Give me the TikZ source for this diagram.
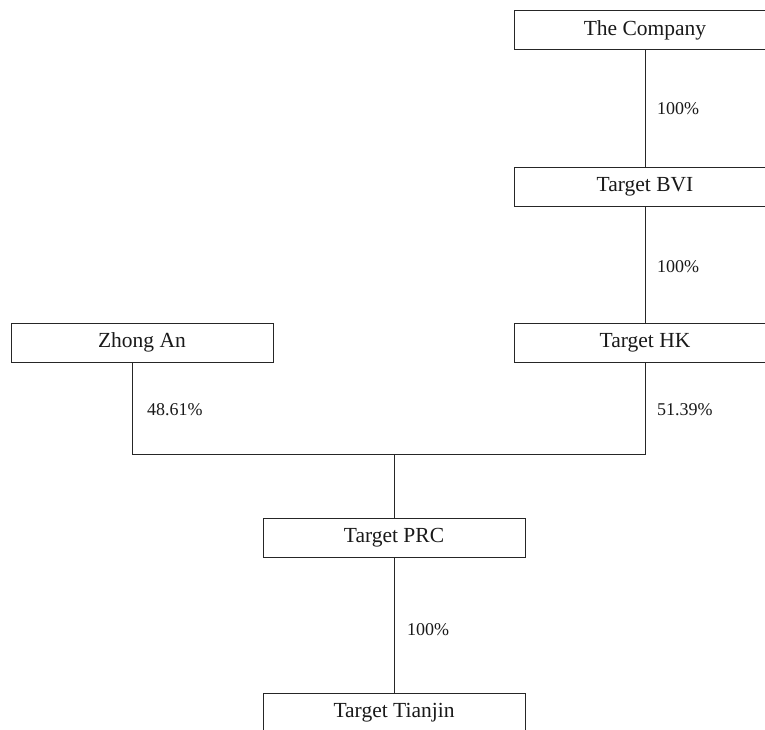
\documentclass[tikz,border=0pt]{standalone}
\usepackage{fontspec}
\setmainfont{Liberation Serif}
\begin{document}
\begin{tikzpicture}[x=1pt,y=-1pt,
  box/.style={draw=black!85,line width=0.8pt,minimum width=262pt,minimum height=39pt,inner sep=0pt,font=\fontsize{21.5}{24}\selectfont,text=black!90},
  pct/.style={anchor=west,inner sep=0pt,font=\fontsize{18}{20}\selectfont,text=black!90},
  conn/.style={draw=black!85,line width=0.8pt}]
\useasboundingbox (0,0) rectangle (765,730);
\node[box] (co) at (645,30) {The Company};
\node[box] (bvi) at (645,186.5) {Target BVI};
\node[box] (hk) at (645,342.5) {Target HK};
\node[box] (za) at (142,342.5) {Zhong An};
\node[box] (prc) at (394,537.5) {Target PRC};
\node[box] (tj) at (394,712.5) {Target Tianjin};
\coordinate (j) at (394,454);
\draw[conn] (co.south) -- (bvi.north);
\draw[conn] (bvi.south) -- (hk.north);
\draw[conn] (za.south -| 132,0) |- (j);
\draw[conn] (hk.south) |- (j);
\draw[conn] (j) -- (prc.north);
\draw[conn] (prc.south) -- (tj.north);
\node[pct] (l1) at (657,109) {100\%};
\node[pct] (l2) at (657,267) {100\%};
\node[pct] (l3) at (147,410) {48.61\%};
\node[pct] (l4) at (657,410) {51.39\%};
\node[pct] (l5) at (407,630) {100\%};
\end{tikzpicture}
\end{document}
